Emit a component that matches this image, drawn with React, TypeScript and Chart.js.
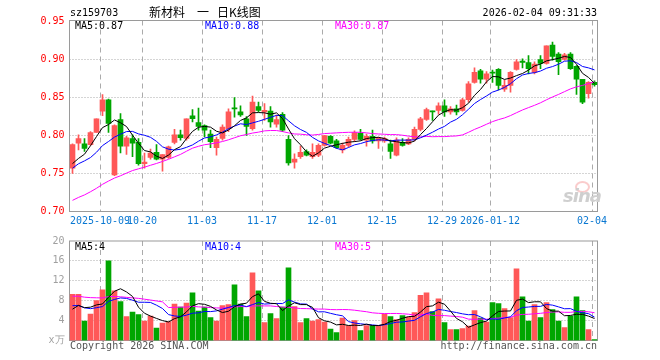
import React, { useEffect, useRef } from "react";
import { Chart, registerables } from "chart.js";

Chart.register(...registerables);

// ---------- data ----------
const dates = [
  "2025-09-24", "2025-09-25", "2025-09-26", "2025-09-29", "2025-09-30", "2025-10-09", "2025-10-10", "2025-10-13", "2025-10-14", "2025-10-15",
  "2025-10-16", "2025-10-17", "2025-10-20", "2025-10-21", "2025-10-22", "2025-10-23", "2025-10-24", "2025-10-27", "2025-10-28", "2025-10-29",
  "2025-10-30", "2025-10-31", "2025-11-03", "2025-11-04", "2025-11-05", "2025-11-06", "2025-11-07", "2025-11-10", "2025-11-11", "2025-11-12",
  "2025-11-13", "2025-11-14", "2025-11-17", "2025-11-18", "2025-11-19", "2025-11-20", "2025-11-21", "2025-11-24", "2025-11-25", "2025-11-26",
  "2025-11-27", "2025-11-28", "2025-12-01", "2025-12-02", "2025-12-03", "2025-12-04", "2025-12-05", "2025-12-08", "2025-12-09", "2025-12-10",
  "2025-12-11", "2025-12-12", "2025-12-15", "2025-12-16", "2025-12-17", "2025-12-18", "2025-12-19", "2025-12-22", "2025-12-23", "2025-12-24",
  "2025-12-25", "2025-12-26", "2025-12-29", "2025-12-30", "2025-12-31", "2026-01-05", "2026-01-06", "2026-01-07", "2026-01-08", "2026-01-09",
  "2026-01-12", "2026-01-13", "2026-01-14", "2026-01-15", "2026-01-16", "2026-01-19", "2026-01-20", "2026-01-21", "2026-01-22", "2026-01-23",
  "2026-01-26", "2026-01-27", "2026-01-28", "2026-01-29", "2026-01-30", "2026-02-02", "2026-02-03", "2026-02-04",
];

const opens = [
  0.757, 0.790, 0.789, 0.788, 0.804, 0.832, 0.847, 0.748, 0.821, 0.786,
  0.796, 0.791, 0.763, 0.771, 0.778, 0.769, 0.771, 0.791, 0.801, 0.796,
  0.826, 0.817, 0.813, 0.802, 0.784, 0.796, 0.809, 0.8365, 0.831, 0.822,
  0.809, 0.838, 0.831, 0.832, 0.815, 0.828, 0.795, 0.765, 0.772, 0.779,
  0.772, 0.774, 0.787, 0.799, 0.793, 0.781, 0.787, 0.795, 0.803, 0.794,
  0.799, 0.793, 0.793, 0.789, 0.774, 0.791, 0.789, 0.795, 0.808, 0.821,
  0.832, 0.833, 0.839, 0.831, 0.835, 0.833, 0.847, 0.870, 0.885, 0.874,
  0.883, 0.887, 0.861, 0.866, 0.887, 0.898, 0.896, 0.883, 0.900, 0.895,
  0.919, 0.907, 0.900, 0.907, 0.891, 0.874, 0.855, 0.870,
];

const highs = [
  0.789, 0.801, 0.796, 0.805, 0.822, 0.854, 0.848, 0.814, 0.829, 0.799,
  0.801, 0.796, 0.777, 0.782, 0.788, 0.775, 0.786, 0.808, 0.807, 0.822,
  0.834, 0.836, 0.814, 0.807, 0.798, 0.814, 0.835, 0.850, 0.839, 0.825,
  0.852, 0.844, 0.842, 0.838, 0.827, 0.830, 0.800, 0.776, 0.786, 0.781,
  0.789, 0.789, 0.800, 0.800, 0.795, 0.790, 0.798, 0.806, 0.808, 0.802,
  0.807, 0.798, 0.798, 0.794, 0.797, 0.796, 0.797, 0.811, 0.824, 0.836,
  0.832, 0.843, 0.847, 0.838, 0.840, 0.849, 0.871, 0.889, 0.887, 0.884,
  0.886, 0.888, 0.873, 0.884, 0.900, 0.901, 0.905, 0.897, 0.905, 0.918,
  0.923, 0.909, 0.908, 0.909, 0.892, 0.874, 0.871, 0.872,
];

const lows = [
  0.750, 0.781, 0.779, 0.787, 0.804, 0.826, 0.804, 0.747, 0.777, 0.775,
  0.772, 0.761, 0.757, 0.769, 0.768, 0.753, 0.770, 0.789, 0.794, 0.794,
  0.818, 0.807, 0.798, 0.784, 0.774, 0.794, 0.805, 0.824, 0.825, 0.800,
  0.807, 0.831, 0.820, 0.811, 0.811, 0.805, 0.761, 0.757, 0.770, 0.773,
  0.770, 0.772, 0.786, 0.789, 0.783, 0.777, 0.785, 0.792, 0.794, 0.786,
  0.790, 0.783, 0.791, 0.770, 0.773, 0.786, 0.788, 0.793, 0.806, 0.820,
  0.820, 0.828, 0.825, 0.828, 0.827, 0.832, 0.844, 0.869, 0.869, 0.869,
  0.870, 0.860, 0.858, 0.857, 0.886, 0.889, 0.881, 0.881, 0.888, 0.894,
  0.899, 0.880, 0.899, 0.887, 0.854, 0.842, 0.849, 0.865,
];

const closes = [
  0.788, 0.796, 0.783, 0.804, 0.822, 0.847, 0.816, 0.813, 0.786, 0.797,
  0.790, 0.763, 0.765, 0.777, 0.769, 0.775, 0.785, 0.801, 0.797, 0.822,
  0.822, 0.812, 0.807, 0.792, 0.795, 0.811, 0.831, 0.835, 0.827, 0.812,
  0.844, 0.833, 0.833, 0.818, 0.821, 0.807, 0.764, 0.769, 0.778, 0.774,
  0.778, 0.787, 0.800, 0.790, 0.784, 0.787, 0.795, 0.804, 0.795, 0.799,
  0.793, 0.797, 0.796, 0.779, 0.794, 0.787, 0.795, 0.808, 0.822, 0.834,
  0.831, 0.839, 0.831, 0.835, 0.831, 0.847, 0.868, 0.883, 0.874, 0.881,
  0.882, 0.866, 0.866, 0.883, 0.897, 0.896, 0.888, 0.894, 0.895, 0.918,
  0.904, 0.897, 0.906, 0.888, 0.874, 0.844, 0.870, 0.867,
];

// volume in 万 (10k)
const volumes = [
  9.3, 9.3, 3.9, 5.3, 8.0, 10.2, 16.0, 10.0, 7.8, 4.8,
  5.7, 5.2, 3.9, 4.9, 2.5, 3.5, 3.8, 7.3, 6.7, 7.5,
  9.6, 5.9, 6.7, 4.6, 3.9, 7.0, 7.2, 11.2, 7.3, 4.8,
  13.6, 10.0, 3.6, 5.4, 4.4, 6.7, 14.6, 6.8, 3.6, 4.4,
  3.9, 4.2, 3.7, 2.3, 1.6, 4.5, 3.0, 4.0, 2.0, 3.0,
  3.0, 3.0, 5.3, 4.8, 4.2, 5.0, 4.7, 5.6, 9.1, 9.6,
  5.8, 8.4, 3.6, 2.2, 2.2, 2.4, 2.9, 6.0, 4.5, 3.7,
  7.6, 7.4, 6.4, 4.6, 14.4, 8.8, 3.9, 7.2, 4.6, 7.6,
  6.2, 3.9, 2.6, 4.9, 8.8, 6.0, 2.2, 0.2,
];

// sessions before the visible window (estimated from where the MA lines start)
const priorCloses = [
  0.680, 0.684, 0.679, 0.686, 0.690, 0.688, 0.693, 0.697, 0.692, 0.689,
  0.694, 0.699, 0.703, 0.698, 0.695, 0.700, 0.704, 0.701, 0.696, 0.702,
  0.738, 0.745, 0.760, 0.752, 0.760, 0.762, 0.755, 0.748, 0.762,
];
const priorVolumes = [
  9, 10, 8, 9, 11, 8, 9, 10, 8, 9,
  8, 9, 10, 8, 9, 38, 6, 5.5, 7, 5.5,
  9, 8.5, 7, 6, 8, 5.5, 6.2, 4.8, 5.7,
];

const xTickDates = ["2025-10-09", "2025-10-20", "2025-11-03", "2025-11-17", "2025-12-01", "2025-12-15", "2025-12-29", "2026-01-12", "2026-02-04"];
const xTickLabels = ["2025-10-09", "10-20", "11-03", "11-17", "12-01", "12-15", "12-29", "2026-01-12", "02-04"];
const priceTicks = [0.7, 0.75, 0.8, 0.85, 0.9, 0.95];
const volumeTicks = [0, 4, 8, 12, 16, 20];
const volumeTickLabels = ["x万", "4", "8", "12", "16", "20"];

const stockCode = "sz159703";
const stockName = "新材料";
const timestamp = "2026-02-04 09:31:33";
const priceLegend = ["MA5:0.87", "MA10:0.88", "MA30:0.87"];
const volumeLegend = ["MA5:4", "MA10:4", "MA30:5"];

// ---------- styles ----------
const RED = "#ff5858";
const GREEN = "#00a600";
const GRID = "#ababab";
const FRAME = "#9a9a9a";
const MA_COLORS = ["#000000", "#0000ff", "#ff00ff"];
const MONO = "'DejaVu Sans Mono', monospace";

function movingAverage(values: number[], prior: number[], n: number): number[] {
  const all = prior.concat(values);
  return values.map((_, i) => {
    const end = prior.length + i;
    let s = 0;
    for (let k = end - n + 1; k <= end; k++) s += all[k];
    return s / n;
  });
}

const candleColors = closes.map((c, i) => (c >= opens[i] ? RED : GREEN));

function framePlugin(hTicks: number[]) {
  return {
    id: "frame",
    beforeDatasetsDraw(chart: any) {
      const { ctx, chartArea: a, scales } = chart;
      const xs = scales.x;
      const ys = scales.y;
      const slot = a.width / dates.length;
      ctx.save();
      ctx.lineWidth = 1;
      ctx.strokeStyle = GRID;
      ctx.setLineDash([1, 2]);
      hTicks.forEach((v) => {
        const py = Math.floor(ys.getPixelForValue(v)) + 0.5;
        ctx.beginPath();
        ctx.moveTo(a.left, py);
        ctx.lineTo(a.right, py);
        ctx.stroke();
      });
      ctx.setLineDash([5, 4]);
      dates.forEach((d, i) => {
        if (!xTickDates.includes(d)) return;
        const px = Math.ceil(xs.getPixelForValue(i) - slot / 2) + 0.5;
        ctx.beginPath();
        ctx.moveTo(px, a.top);
        ctx.lineTo(px, a.bottom);
        ctx.stroke();
      });
      ctx.setLineDash([]);
      ctx.strokeStyle = FRAME;
      ctx.strokeRect(a.left, a.top, a.width, a.height);
      ctx.restore();
    },
  };
}

function lineDs(data: number[], color: string) {
  return {
    type: "line" as const,
    data,
    borderColor: color,
    borderWidth: 1,
    pointRadius: 0,
    tension: 0,
    fill: false,
    order: 0,
  };
}

export default function App() {
  const priceRef = useRef<HTMLCanvasElement>(null);
  const volRef = useRef<HTMLCanvasElement>(null);

  useEffect(() => {
    const ma5 = movingAverage(closes, priorCloses, 5);
    const ma10 = movingAverage(closes, priorCloses, 10);
    const ma30 = movingAverage(closes, priorCloses, 30);
    const vma5 = movingAverage(volumes, priorVolumes, 5);
    const vma10 = movingAverage(volumes, priorVolumes, 10);
    const vma30 = movingAverage(volumes, priorVolumes, 30);

    const tickFont = { family: MONO, size: 10 };

    const priceChart = new Chart(priceRef.current as HTMLCanvasElement, {
      type: "bar",
      data: {
        labels: dates,
        datasets: [
          lineDs(ma5, MA_COLORS[0]) as any,
          lineDs(ma10, MA_COLORS[1]) as any,
          lineDs(ma30, MA_COLORS[2]) as any,
          {
            type: "bar",
            data: opens.map((o, i) => [o, closes[i]]),
            backgroundColor: candleColors,
            barThickness: 5,
            minBarLength: 1,
            grouped: false,
            borderSkipped: false,
            order: 1,
          },
          {
            type: "bar",
            data: lows.map((l, i) => [l, highs[i]]),
            backgroundColor: candleColors,
            barThickness: 1,
            grouped: false,
            borderSkipped: false,
            order: 2,
          },
        ],
      },
      options: {
        animation: false,
        responsive: false,
        maintainAspectRatio: false,
        events: [],
        layout: { padding: { top: 20.5, right: 62.5, bottom: 0, left: 0 } },
        plugins: { legend: { display: false }, tooltip: { enabled: false } },
        scales: {
          x: {
            type: "category",
            offset: true,
            grid: { display: false, drawTicks: false },
            border: { display: false },
            ticks: {
              autoSkip: false,
              maxRotation: 0,
              minRotation: 0,
              padding: 4,
              labelOffset: -2.5,
              color: "#0a78d2",
              font: tickFont,
              callback: (_v: any, i: number) => {
                const k = xTickDates.indexOf(dates[i]);
                return k >= 0 ? xTickLabels[k] : "";
              },
            },
            afterFit: (s: any) => {
              s.height = 20.5;
            },
          },
          y: {
            min: 0.7,
            max: 0.95 + 1 / 760,
            afterBuildTicks: (s: any) => {
              s.ticks = priceTicks.map((v) => ({ value: v }));
            },
            grid: { display: false, drawTicks: false },
            border: { display: false },
            ticks: {
              padding: 5,
              color: "#ff0000",
              font: tickFont,
              callback: (v: any) => Number(v).toFixed(2),
            },
            afterFit: (s: any) => {
              s.width = 69.5;
            },
          },
        },
      } as any,
      plugins: [framePlugin([0.75, 0.8, 0.85, 0.9])],
    });

    const volChart = new Chart(volRef.current as HTMLCanvasElement, {
      type: "bar",
      data: {
        labels: dates,
        datasets: [
          lineDs(vma5, MA_COLORS[0]) as any,
          lineDs(vma10, MA_COLORS[1]) as any,
          lineDs(vma30, MA_COLORS[2]) as any,
          {
            type: "bar",
            data: volumes,
            backgroundColor: candleColors,
            barThickness: 5,
            grouped: false,
            borderSkipped: false,
            order: 1,
          },
        ],
      },
      options: {
        animation: false,
        responsive: false,
        maintainAspectRatio: false,
        events: [],
        layout: { padding: { top: 10.5, right: 62.5, bottom: 0, left: 0 } },
        plugins: { legend: { display: false }, tooltip: { enabled: false } },
        scales: {
          x: {
            type: "category",
            offset: true,
            grid: { display: false, drawTicks: false },
            border: { display: false },
            ticks: { display: false },
            afterFit: (s: any) => {
              s.height = 19.5;
            },
          },
          y: {
            min: 0,
            max: 20,
            afterBuildTicks: (s: any) => {
              s.ticks = volumeTicks.map((v) => ({ value: v }));
            },
            grid: { display: false, drawTicks: false },
            border: { display: false },
            ticks: {
              padding: 5,
              color: "#a0a0a0",
              font: tickFont,
              callback: (v: any) => {
                const k = volumeTicks.indexOf(Number(v));
                return k >= 0 ? volumeTickLabels[k] : "";
              },
            },
            afterFit: (s: any) => {
              s.width = 69.5;
            },
          },
        },
      } as any,
      plugins: [framePlugin([4, 8, 12, 16])],
    });

    return () => {
      priceChart.destroy();
      volChart.destroy();
    };
  }, []);

  const mono: React.CSSProperties = {
    position: "absolute",
    fontFamily: MONO,
    fontSize: 10,
    lineHeight: "12px",
    whiteSpace: "pre",
  };
  const cjk: React.CSSProperties = {
    position: "absolute",
    fontFamily: "'Noto Sans CJK SC', sans-serif",
    fontSize: 12,
    lineHeight: "14px",
    whiteSpace: "pre",
    color: "#000",
  };

  return (
    <div
      style={{
        position: "fixed",
        left: 0,
        top: 0,
        width: 660,
        height: 360,
        background: "#ffffff",
        overflow: "hidden",
      }}
    >
      <canvas
        ref={priceRef}
        width={660}
        height={232}
        style={{ position: "absolute", left: 0, top: 0, width: 660, height: 232 }}
      />
      <canvas
        ref={volRef}
        width={660}
        height={130}
        style={{ position: "absolute", left: 0, top: 230, width: 660, height: 130 }}
      />

      {/* header */}
      <div style={{ ...mono, left: 70, top: 7, color: "#000" }}>{stockCode}</div>
      <div style={{ ...cjk, left: 149, top: 5 }}>{stockName}</div>
      <div style={{ ...cjk, left: 197, top: 5 }}>一</div>
      <div style={{ ...cjk, left: 217, top: 5 }}>日K线图</div>
      <div style={{ ...mono, right: 63, top: 7, color: "#000" }}>{timestamp}</div>

      {/* price legend */}
      <div style={{ ...mono, left: 75, top: 20, color: MA_COLORS[0] }}>{priceLegend[0]}</div>
      <div style={{ ...mono, left: 205, top: 20, color: MA_COLORS[1] }}>{priceLegend[1]}</div>
      <div style={{ ...mono, left: 335, top: 20, color: MA_COLORS[2] }}>{priceLegend[2]}</div>

      {/* volume legend */}
      <div style={{ ...mono, left: 75, top: 241, color: MA_COLORS[0] }}>{volumeLegend[0]}</div>
      <div style={{ ...mono, left: 205, top: 241, color: MA_COLORS[1] }}>{volumeLegend[1]}</div>
      <div style={{ ...mono, left: 335, top: 241, color: MA_COLORS[2] }}>{volumeLegend[2]}</div>

      {/* watermark */}
      <div
        style={{
          position: "absolute",
          left: 575,
          top: 181,
          width: 11,
          height: 8,
          borderRadius: "50%",
          border: "2px solid rgba(240,110,110,0.35)",
        }}
      />
      <div
        style={{
          position: "absolute",
          left: 563,
          top: 186,
          fontFamily: "'DejaVu Sans', sans-serif",
          fontWeight: "bold",
          fontStyle: "italic",
          fontSize: 18,
          lineHeight: "20px",
          color: "#cfcfcf",
          letterSpacing: -1,
        }}
      >
        sina
      </div>

      {/* footer */}
      <div style={{ ...mono, left: 70, top: 340, color: "#555" }}>Copyright 2026 SINA.COM</div>
      <div style={{ ...mono, right: 63, top: 340, color: "#555" }}>http://finance.sina.com.cn</div>
    </div>
  );
}
